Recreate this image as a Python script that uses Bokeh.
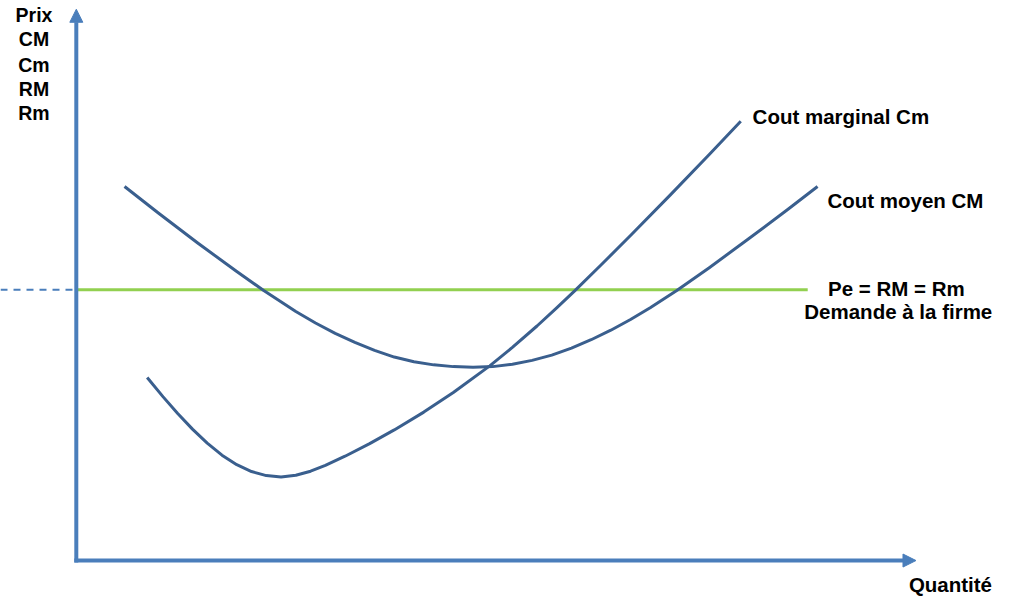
from bokeh.plotting import figure
from bokeh.models import Range1d, Arrow, NormalHead
from bokeh.core.properties import value
from bokeh.embed import file_html
from bokeh.resources import INLINE

# ---- data (quantity, price units) ----
# Cout moyen (CM)
cm_q = [49, 83, 123, 163, 190, 223, 243, 263, 283, 303, 323, 343, 363, 383, 403, 423, 443,
        463, 483, 503, 523, 543, 563, 583, 610, 643, 683, 723, 753]
cm_p = [384, 357.1, 326.3, 296.7, 277.5, 255.7, 243.9, 233.3, 223.9, 215.7, 208.9, 204.1, 200.9,
        199.1, 198.5, 199.1, 201.5, 205.5, 210.9, 218.1, 226.7, 236.5, 247.5, 259.5, 277.3,
        300.7, 330.3, 360.7, 384]

# Cout marginal (Cm)
cmarg_q = [72, 88, 103, 118, 133, 148, 163, 178, 193, 208, 223, 238, 253, 273, 298, 323, 353,
           383, 420, 443, 468, 488, 506, 533, 563, 603, 643, 675]
cmarg_p = [188, 168.3, 150.9, 134.9, 120.5, 108.2, 98.4, 91.4, 87.2, 85.7, 87.5, 91.7, 97.7,
           107.1, 120.1, 134.1, 152.4, 172.5, 199.9, 218.8, 240.8, 259.4, 276.7, 303.4, 333.7,
           374.9, 416.9, 451.1]

price_pe = 278
demand_q = [0, 743]
dash_q = [-77, 0]

y_labels = ["Prix", "CM", "Cm", "RM", "Rm"]
label_marginal = "Cout marginal Cm"
label_moyen = "Cout moyen CM"
label_pe = "Pe = RM = Rm"
label_demande = "Demande à la firme"
label_x = "Quantité"

AXIS = "#4A7EBB"
CURVE = "#3A5F8E"
GREEN = "#92D050"
FONT = value("Liberation Sans")

p = figure(width=1010, height=599, x_range=Range1d(-77, 949), y_range=Range1d(-40, 575),
           output_backend="svg", toolbar_location=None, min_border=0,
           x_axis_location=None, y_axis_location=None, outline_line_color=None)
p.xgrid.visible = False
p.ygrid.visible = False
p.background_fill_color = "white"

# dashed price guide
p.line(dash_q, [price_pe, price_pe], line_color=AXIS, line_width=2, line_dash="7 6")

# axes arrows
p.add_layout(Arrow(end=NormalHead(size=13, fill_color=AXIS, line_color=AXIS),
                   x_start=0, y_start=-2, x_end=0, y_end=566,
                   line_color=AXIS, line_width=4))
p.add_layout(Arrow(end=NormalHead(size=13, fill_color=AXIS, line_color=AXIS),
                   x_start=-2, y_start=0, x_end=853, y_end=0,
                   line_color=AXIS, line_width=4))

# demand line
p.line(demand_q, [price_pe, price_pe], line_color=GREEN, line_width=3)

# cost curves
p.line(cm_q, cm_p, line_color=CURVE, line_width=3, line_join="round")
p.line(cmarg_q, cmarg_p, line_color=CURVE, line_width=3, line_join="round")

# texts
p.text(x=[-43] * 5, y=[560, 535, 509, 484, 459], text=y_labels, text_font=FONT,
       text_font_style="bold", text_font_size="19.5px", text_align="center",
       text_baseline="alphabetic", text_color="black")
p.text(x=[687, 763], y=[456, 370], text=[label_marginal, label_moyen], text_font=FONT,
       text_font_style="bold", text_font_size="20.5px", text_align="left",
       text_baseline="alphabetic", text_color="black")
p.text(x=[833, 835], y=[279, 256], text=[label_pe, label_demande], text_font=FONT,
       text_font_style="bold", text_font_size="20.5px", text_align="center",
       text_baseline="alphabetic", text_color="black")
p.text(x=[888], y=[-25], text=[label_x], text_font=FONT,
       text_font_style="bold", text_font_size="20.5px", text_align="center",
       text_baseline="alphabetic", text_color="black")

open("out.html", "w").write(file_html(p, INLINE))
